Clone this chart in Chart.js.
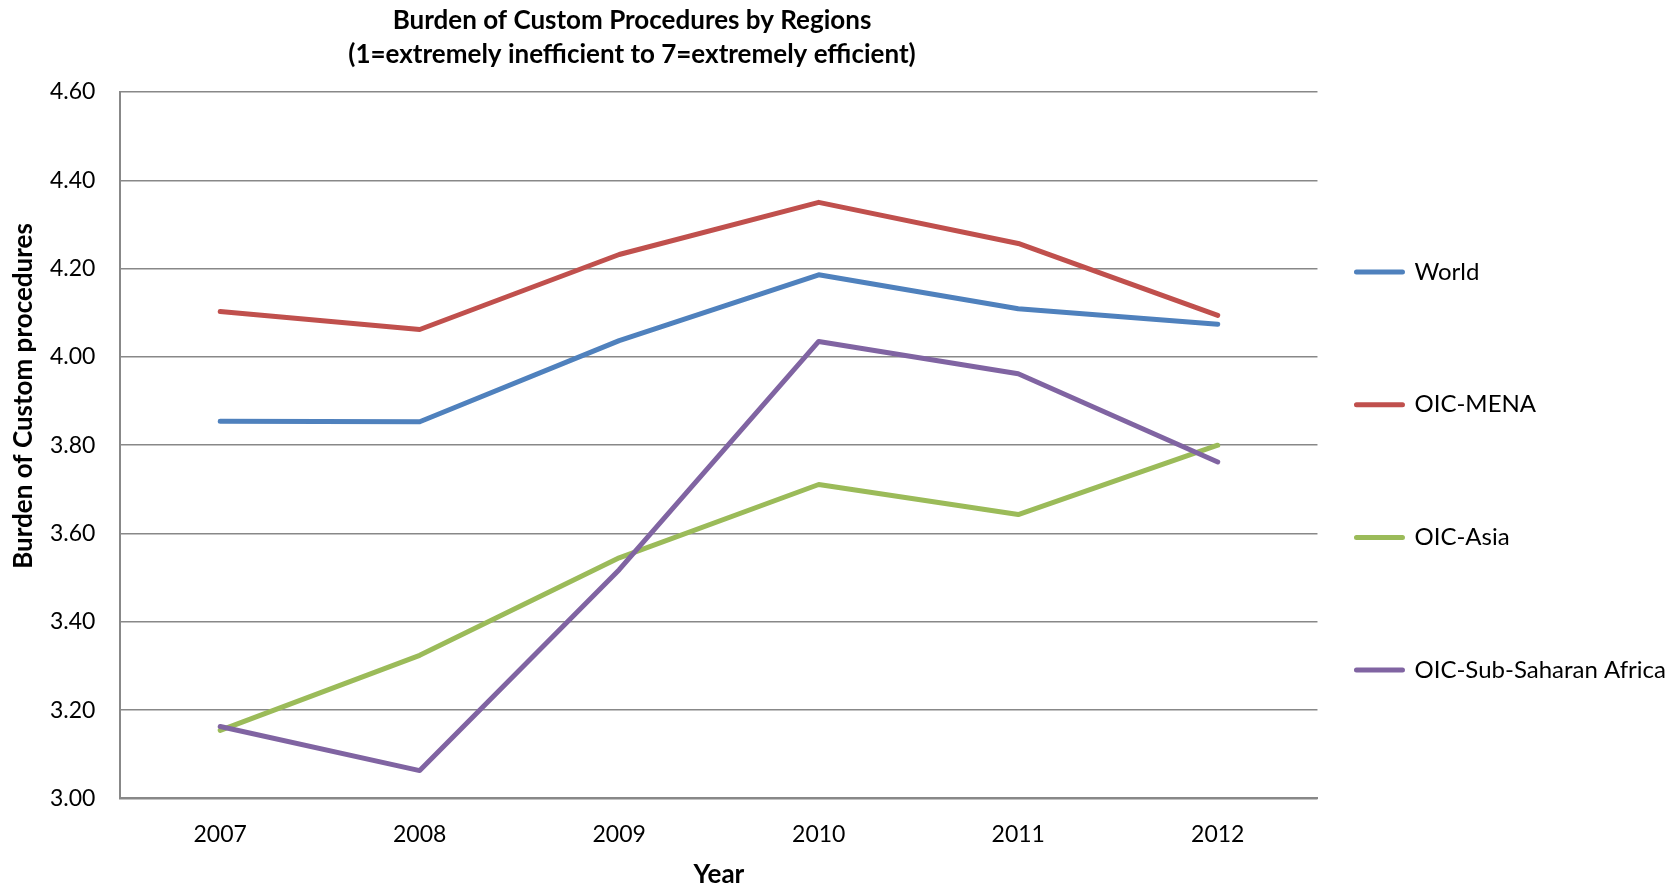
<!DOCTYPE html>
<html lang="en">
<head>
    <meta charset="UTF-8">
    <title>Burden of Custom Procedures by Regions</title>
    <script src="https://cdn.jsdelivr.net/npm/chart.js@4.4.0/dist/chart.umd.min.js"></script>
    <style>
        body {
            margin: 0;
            background-color: #fff;
        }
        #wrap {
            width: 1679px;
            height: 888px;
        }
    </style>
</head>
<body>
    <div id="wrap"><canvas id="lineChart" width="1679" height="888"></canvas></div>
    <script>
        // Data
        const years = ['2007', '2008', '2009', '2010', '2011', '2012'];
        const world = [3.854, 3.853, 4.037, 4.186, 4.109, 4.074];
        const oicMena = [4.103, 4.062, 4.232, 4.350, 4.257, 4.094];
        const oicAsia = [3.154, 3.324, 3.545, 3.711, 3.643, 3.800];
        const oicSsa = [3.163, 3.063, 3.518, 4.035, 3.962, 3.762];

        const seriesNames = ['World', 'OIC-MENA', 'OIC-Asia', 'OIC-Sub-Saharan Africa'];
        const titleLines = ['Burden of Custom Procedures by Regions', '(1=extremely inefficient to 7=extremely efficient)'];
        const yTitle = 'Burden of Custom procedures';
        const xTitle = 'Year';

        const FONT = 'Lato, "Open Sans", sans-serif';

        // chart title and y axis title, placed like the original
        const extraText = {
            id: 'extraText',
            afterDraw(chart) {
                const ctx = chart.ctx;
                ctx.save();
                ctx.fillStyle = '#000';
                ctx.font = 'bold 26px ' + FONT;
                ctx.textAlign = 'center';
                ctx.textBaseline = 'middle';
                ctx.fillText(titleLines[0], 632, 21);
                ctx.fillText(titleLines[1], 632, 55);
                ctx.translate(24, 396);
                ctx.rotate(-Math.PI / 2);
                ctx.fillText(yTitle, 0, 0);
                ctx.restore();
            }
        };

        function makeSet(label, data, color, order) {
            return {
                label: label,
                data: data,
                borderColor: color,
                backgroundColor: color,
                borderWidth: 5,
                borderCapStyle: 'round',
                borderJoinStyle: 'round',
                pointRadius: 0,
                tension: 0,
                order: order
            };
        }

        new Chart(document.getElementById('lineChart').getContext('2d'), {
            type: 'line',
            data: {
                labels: years,
                datasets: [
                    makeSet(seriesNames[0], world, '#4f81bd', 4),
                    makeSet(seriesNames[1], oicMena, '#c0504d', 3),
                    makeSet(seriesNames[2], oicAsia, '#9bbb59', 2),
                    makeSet(seriesNames[3], oicSsa, '#8064a2', 1)
                ]
            },
            options: {
                responsive: false,
                animation: false,
                layout: { padding: { top: 92, left: 25, right: 3, bottom: 0 } },
                plugins: {
                    tooltip: { enabled: false },
                    legend: {
                        position: 'right',
                        align: 'start',
                        title: { display: true, text: '', font: { size: 10, lineHeight: 1 }, padding: { top: 119, bottom: 0 } },
                        labels: {
                            color: '#000',
                            boxWidth: 46,
                            boxHeight: 0,
                            padding: 39,
                            font: { family: FONT, size: 24, lineHeight: '93.7px' },
                            generateLabels(chart) {
                                const items = Chart.defaults.plugins.legend.labels.generateLabels(chart);
                                items.sort((a, b) => a.datasetIndex - b.datasetIndex);
                                items.forEach(it => { it.text = [it.text]; });
                                return items;
                            }
                        }
                    }
                },
                scales: {
                    x: {
                        offset: true,
                        grid: { display: false },
                        border: { display: true, color: '#888', width: 2 },
                        ticks: { color: '#000', padding: 14, font: { family: FONT, size: 23 } },
                        title: {
                            display: true,
                            text: xTitle,
                            color: '#000',
                            padding: { top: 0, bottom: 0 },
                            font: { family: FONT, size: 26, weight: 'bold', lineHeight: 1 }
                        }
                    },
                    y: {
                        min: 3,
                        max: 4.6,
                        grid: { color: '#888', lineWidth: 1.5, drawTicks: false },
                        border: { display: true, color: '#888', width: 2 },
                        ticks: {
                            stepSize: 0.2,
                            color: '#000',
                            padding: 25,
                            font: { family: FONT, size: 23 },
                            callback: v => v.toFixed(2)
                        }
                    }
                }
            },
            plugins: [extraText]
        });
    </script>
</body>
</html>
